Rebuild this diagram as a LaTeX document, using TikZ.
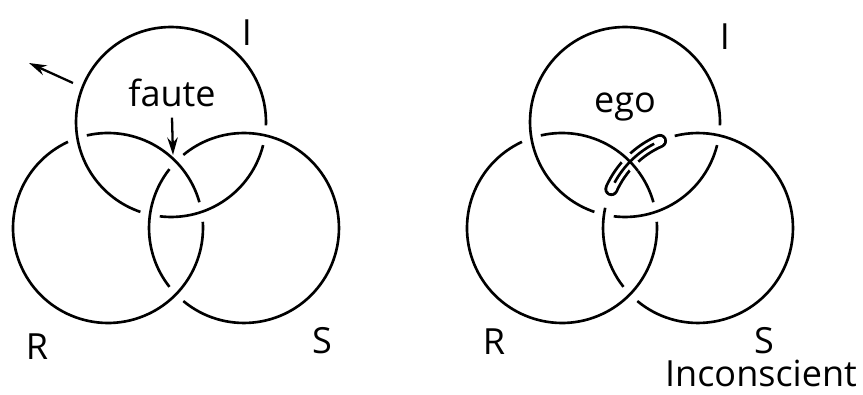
\documentclass[tikz,border=0pt]{standalone}
\usepackage{fontspec}
\setmainfont{Open Sans}
\usetikzlibrary{arrows.meta, calc}
\tikzset{
	ring/.style={line width=1.5pt},
	ringover/.style={ring, preaction={draw=white, line width=0.24cm}},
	band/.style={line width=1.6pt, double=white, double distance=0.17cm, line cap=round},
	lbl/.style={font=\fontsize{20.5}{24}\selectfont, inner sep=0pt},
	ptr/.style={-{Stealth[length=10pt, width=6pt]}, line width=1.3pt},
}
% one piece of a ring: centre, start angle, end angle
\newcommand{\ringarc}[4][]{\draw[ring,#1] (#2) ++(#3:1.9cm) arc[start angle=#3, end angle=#4, radius=1.9cm];}

\begin{document}
\begin{tikzpicture}[x=0.02cm, y=0.02cm]
	\useasboundingbox (0,0) rectangle (863,395);
	% knot with the fault
	\coordinate (I1) at (171,273);
	\coordinate (R1) at (108,167);
	\coordinate (S1) at (244,167);
	\ringarc{I1}{-2.1}{251.2} \ringarc{I1}{263.2}{345.9}
	\ringarc{R1}{15.75}{102.9} \ringarc{R1}{114.9}{363.75}
	\ringarc{S1}{141.7}{218.3} \ringarc{S1}{230.3}{489.7}
	\node[lbl] (i1) at (247,362) {I};
	\node[lbl] (r1) at (37,48) {R};
	\node[lbl] (s1) at (322,54) {S};
	\node[lbl, anchor=base] (faute) at (172,288) {faute};
	\coordinate (fault) at (173,240);
	\draw[ptr] ([yshift=-0.2cm]faute.south) -- (fault);
	\coordinate (slip0) at (73,312);
	\coordinate (slip1) at (29,332);
	\draw[ptr] (slip0) -- (slip1);
	% knot repaired by the ego
	\coordinate (I2) at (625,273);
	\coordinate (R2) at (562,167);
	\coordinate (S2) at (698,167);
	\ringarc{I2}{-2.1}{251.2} \ringarc{I2}{263.2}{345.9}
	\ringarc{R2}{15.75}{102.9} \ringarc{R2}{114.9}{363.75}
	\ringarc{S2}{167.7}{218.3} \ringarc{S2}{230.3}{464.2}
	\draw[band] (S2) ++(113.6:1.9cm) arc[start angle=113.6, end angle=155.8, radius=1.9cm];
	\ringarc[ringover]{R2}{37}{52}
	\ringarc{S2}{117.5}{151.5}
	\node[lbl] (i2) at (725,358) {I};
	\node[lbl] (r2) at (494,53) {R};
	\node[lbl] (s2) at (764,54) {S};
	\node[lbl, anchor=base] (ego) at (625,282) {ego};
	\node[lbl, anchor=base] (incs) at (761,8) {Inconscient};
\end{tikzpicture}
\end{document}
